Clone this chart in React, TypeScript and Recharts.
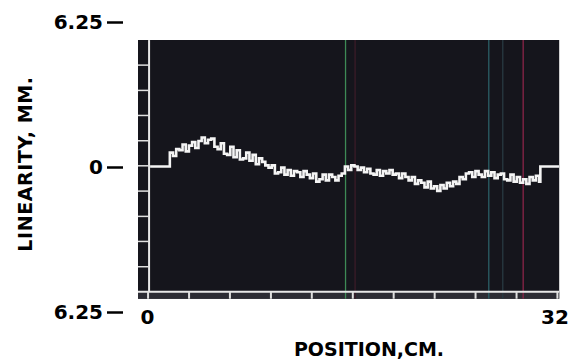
import React from 'react';
import { LineChart, Line, XAxis, YAxis, ReferenceArea, ReferenceLine, Label } from 'recharts';

// position along the scan, cm
const POSITION_CM = [
  0.2,
  1.75, 2, 2.25, 2.5,
  2.75, 3, 3.25, 3.5,
  3.75, 4, 4.25, 4.5,
  4.75, 5, 5.25, 5.5,
  5.75, 6, 6.25, 6.5,
  6.75, 7, 7.25, 7.5,
  7.75, 8, 8.25, 8.5,
  8.75, 9, 9.25, 9.5,
  9.75, 10, 10.25, 10.5,
  10.75, 11, 11.25, 11.5,
  11.75, 12, 12.25, 12.5,
  12.75, 13, 13.25, 13.5,
  13.75, 14, 14.25, 14.5,
  14.75, 15, 15.25, 15.5,
  15.75, 16, 16.25, 16.5,
  16.75, 17, 17.25, 17.5,
  17.75, 18, 18.25, 18.5,
  18.75, 19, 19.25, 19.5,
  19.75, 20, 20.25, 20.5,
  20.75, 21, 21.25, 21.5,
  21.75, 22, 22.25, 22.5,
  22.75, 23, 23.25, 23.5,
  23.75, 24, 24.25, 24.5,
  24.75, 25, 25.25, 25.5,
  25.75, 26, 26.25, 26.5,
  26.75, 27, 27.25, 27.5,
  27.75, 28, 28.25, 28.5,
  28.75, 29, 29.25, 29.5,
  29.75, 30, 30.25, 30.5,
  30.75,
  30.85, 32.33,
];

// linearity deviation, mm
const LINEARITY_MM = [
  0,
  0.6, 0.45, 0.75, 0.7,
  0.95, 0.65, 0.9, 1.05,
  0.8, 1.1, 1.25, 1.0,
  1.15, 1.2, 0.85, 0.75,
  1.0, 0.55, 0.5, 0.85,
  0.4, 0.7, 0.3, 0.35,
  0.6, 0.25, 0.5, 0.1,
  0.35, 0.2, 0.05, -0.05,
  0.05, -0.3, -0.25, -0.05,
  -0.35, -0.15, -0.4, -0.2,
  -0.25, -0.45, -0.2, -0.35,
  -0.5, -0.3, -0.65, -0.55,
  -0.35, -0.6, -0.35, -0.45,
  -0.6, -0.4, -0.3, 0.0,
  -0.15, 0.05, 0.0, -0.15,
  -0.05, -0.25, -0.1, -0.3,
  -0.35, -0.15, -0.4, -0.2,
  -0.3, -0.15, -0.35, -0.3,
  -0.5, -0.3, -0.45, -0.6,
  -0.45, -0.75, -0.6, -0.7,
  -0.9, -0.65, -0.95, -0.85,
  -1.05, -0.8, -0.95, -0.7,
  -0.85, -0.65, -0.75, -0.45,
  -0.55, -0.3, -0.25, -0.45,
  -0.2, -0.35, -0.45, -0.2,
  -0.4, -0.25, -0.5, -0.35,
  -0.3, -0.55, -0.6, -0.35,
  -0.65, -0.45, -0.7, -0.55,
  -0.75, -0.45, -0.6, -0.4,
  -0.65,
  0, 0,
];

const X_TICKS = [0, 32];
const Y_TICKS = [-6.25, 0, 6.25];

// scope frame (graticule) marks
const FRAME_X_TICKS = [0.04, 3.26, 6.47, 9.69, 12.9, 16.12, 19.33, 22.55, 25.76, 28.98, 32.19];
const FRAME_Y_TICKS = [4.37, 3.28, 2.2, 1.11, 0.03, -1.06, -2.15, -3.23, -4.32];
// faint coloured raster lines on the photo
const RASTER_LINES = [
  { x: 15.55, color: '#3e8a56' },
  { x: 16.3, color: '#3a1c28' },
  { x: 26.8, color: '#2c5f66' },
  { x: 27.9, color: '#283a42' },
  { x: 29.5, color: '#8a2448' },
];

const data = POSITION_CM.map((x, i) => ({ x, y: LINEARITY_MM[i] }));

const FONT = '"DejaVu Sans", Verdana, sans-serif';
const PANEL = '#15151c';
const X_MIN = -0.75;
const X_MAX = 32.33;
const TOP = 5.45;
const INNER_BOTTOM = -5.4;
const BOTTOM = -5.7;
const AXIS_X = 0.12;

const YTick = (props: any) => {
  const { x, y, payload } = props;
  const label = payload.value === 0 ? '0' : '6.25';
  return (
    <g>
      <text x={x - 35} y={y + 7.5} textAnchor="end" fontFamily={FONT} fontWeight="bold" fontSize={20} fill="#000">
        {label}
      </text>
      <line x1={x - 31} x2={x - 15} y1={y + 1} y2={y + 1} stroke="#000" strokeWidth={2.5} />
    </g>
  );
};

const XTick = (props: any) => {
  const { x, y, payload } = props;
  return (
    <text x={x} y={y + 12.5} textAnchor="middle" fontFamily={FONT} fontWeight="bold" fontSize={20} fill="#000">
      {payload.value}
    </text>
  );
};

const XTitle = (props: any) => {
  const { viewBox } = props;
  return (
    <text x={369} y={viewBox.y + 44} textAnchor="middle" fontFamily={FONT} fontWeight="bold" fontSize={19} fill="#000">
      POSITION,CM.
    </text>
  );
};

const YTitle = () => (
  <text
    x={25}
    y={164}
    transform="rotate(-90, 25, 164)"
    textAnchor="middle"
    dominantBaseline="central"
    fontFamily={FONT}
    fontWeight="bold"
    fontSize={19}
    letterSpacing={0.6}
    fill="#000"
  >
    LINEARITY,  MM.
  </text>
);

export default function App() {
  return (
    <div style={{ position: 'absolute', left: 0, top: 0, background: '#fff' }}>
      <LineChart width={573} height={360} data={data} margin={{ top: 21.5, right: 13.8, bottom: 0, left: 38 }}>
        <XAxis
          dataKey="x"
          type="number"
          domain={[X_MIN, X_MAX]}
          ticks={X_TICKS}
          allowDataOverflow
          axisLine={false}
          tickLine={false}
          tickSize={0}
          tickMargin={0}
          height={48.5}
          tick={<XTick />}
          interval={0}
        >
          <Label content={<XTitle />} />
        </XAxis>
        <YAxis
          type="number"
          domain={[-6.25, 6.25]}
          ticks={Y_TICKS}
          allowDataOverflow
          axisLine={false}
          tickLine={false}
          tickSize={0}
          tickMargin={0}
          width={100}
          tick={<YTick />}
          interval={0}
        >
          <Label content={<YTitle />} />
        </YAxis>

        <ReferenceArea x1={X_MIN} x2={X_MAX} y1={BOTTOM} y2={TOP} fill={PANEL} fillOpacity={1} stroke="none" ifOverflow="visible" />
        <ReferenceArea x1={X_MIN} x2={X_MAX} y1={BOTTOM} y2={INNER_BOTTOM} fill="#2c2c34" fillOpacity={1} stroke="none" ifOverflow="visible" />

        {RASTER_LINES.map((r) => (
          <ReferenceLine
            key={r.x}
            segment={[{ x: r.x, y: TOP }, { x: r.x, y: BOTTOM }]}
            stroke={r.color}
            strokeWidth={1.3}
            ifOverflow="visible"
          />
        ))}

        <ReferenceLine
          segment={[{ x: AXIS_X, y: TOP }, { x: AXIS_X, y: INNER_BOTTOM }]}
          stroke="#e8e8e8"
          strokeWidth={2}
          ifOverflow="visible"
        />
        <ReferenceLine
          segment={[{ x: X_MIN, y: INNER_BOTTOM }, { x: X_MAX, y: INNER_BOTTOM }]}
          stroke="#e8e8e8"
          strokeWidth={2}
          ifOverflow="visible"
        />
        {FRAME_Y_TICKS.map((v) => (
          <ReferenceLine
            key={'fy' + v}
            segment={[{ x: X_MIN, y: v }, { x: AXIS_X, y: v }]}
            stroke="#e0e0e0"
            strokeWidth={1.5}
            ifOverflow="visible"
          />
        ))}
        {FRAME_X_TICKS.map((v) => (
          <ReferenceLine
            key={'fx' + v}
            segment={[{ x: v, y: INNER_BOTTOM }, { x: v, y: BOTTOM }]}
            stroke="#e0e0e0"
            strokeWidth={2}
            ifOverflow="visible"
          />
        ))}

        <Line
          type="stepAfter"
          dataKey="y"
          stroke="#f4f4f4"
          strokeWidth={2.6}
          dot={false}
          isAnimationActive={false}
        />
      </LineChart>
    </div>
  );
}
